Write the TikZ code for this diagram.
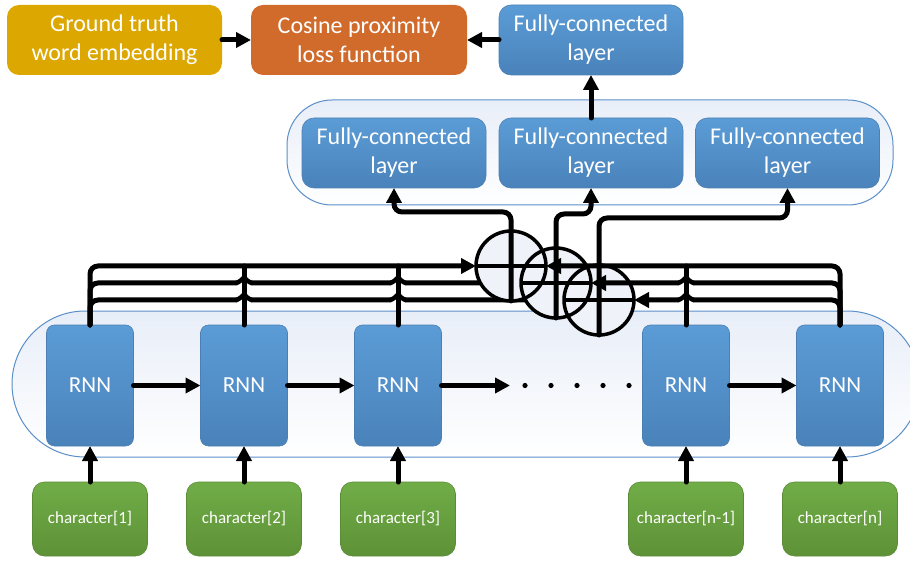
\documentclass[tikz,border=0pt]{standalone}
\usepackage{fontspec}
\setmainfont{Carlito}
\usetikzlibrary{arrows.meta,calc}

\definecolor{goldfill}{RGB}{220,167,0}
\definecolor{orangefill}{RGB}{208,107,44}
\definecolor{bluetop}{RGB}{91,156,214}
\definecolor{bluebot}{RGB}{74,130,186}
\definecolor{blueedge}{RGB}{76,128,180}
\definecolor{greentop}{RGB}{112,173,71}
\definecolor{greenbot}{RGB}{94,145,55}
\definecolor{greenedge}{RGB}{90,140,55}
\definecolor{groupedge}{RGB}{91,143,201}
\definecolor{grouptop}{RGB}{232,238,248}
\definecolor{circfill}{RGB}{240,242,249}

\begin{document}
\begin{tikzpicture}[x=1pt,y=-1pt,
  box/.style={rounded corners=12pt, minimum width=184pt, minimum height=70pt,
    align=center, text=white, inner sep=0pt, outer sep=0pt,
    font=\fontsize{24}{29}\selectfont},
  fcbox/.style={box, top color=bluetop, bottom color=bluebot, draw=blueedge, line width=0.6pt},
  rnnbox/.style={rounded corners=8pt, minimum width=87pt, minimum height=121pt,
    inner sep=0pt, outer sep=0pt, text=white, top color=bluetop, bottom color=bluebot,
    draw=blueedge, line width=0.6pt, font=\fontsize{23}{28}\selectfont},
  charbox/.style={rounded corners=12pt, minimum width=115pt, minimum height=74pt,
    inner sep=0pt, outer sep=0pt, text=white, top color=greentop, bottom color=greenbot,
    draw=greenedge, line width=0.6pt, font=\fontsize{17}{20}\selectfont},
  group/.style={draw=groupedge, line width=1pt, top color=grouptop, bottom color=white},
  opluscirc/.style={circle, minimum size=70pt, inner sep=0pt, outer sep=0pt},
  bus/.style={line width=5pt, line cap=round, rounded corners=8pt},
  tip/.style={-{Triangle[length=15pt,width=15pt]}},
  ring/.style={line width=3.5pt},
  erase/.style={white, line width=6pt},
  hop/.style={line width=4.5pt, line cap=round},
]
\useasboundingbox (0,0) rectangle (910,561);
\clip (0,0) rectangle (910,561);

% group backgrounds
\path[group, rounded corners=45pt] (287,100) rectangle (893,205);
\path[group, rounded corners=73pt] (12,311) rectangle (920,457);

% top row
\node[box, fill=goldfill] (gt) at (114.5,40) [minimum width=215pt] {Ground truth\\word embedding};
\node[box, fill=orangefill] (cos) at (359,40) [minimum width=216pt] {Cosine proximity\\loss function};
\node[fcbox] (fct) at (591,40) {Fully-connected\\layer};

% fully-connected layers
\node[fcbox] (fc1) at (394,153) {Fully-connected\\layer};
\node[fcbox] (fc2) at (591,153) {Fully-connected\\layer};
\node[fcbox] (fc3) at (787.5,153) {Fully-connected\\layer};

% recurrent cells
\node[rnnbox] (r1) at (90,385.5) {RNN};
\node[rnnbox] (r2) at (244,385.5) {RNN};
\node[rnnbox] (r3) at (398,385.5) {RNN};
\node[rnnbox] (r4) at (686,385.5) {RNN};
\node[rnnbox] (r5) at (840,385.5) {RNN};

% character inputs
\node[charbox] (ch1) at (90,519) {character[1]};
\node[charbox] (ch2) at (244,519) {character[2]};
\node[charbox] (ch3) at (398,519) {character[3]};
\node[charbox] (ch4) at (686,519) {character[n-1]};
\node[charbox] (ch5) at (840,519) {character[n]};

% summation nodes
\node[opluscirc] (c1) at (511,266) {};
\node[opluscirc] (c2) at (556,283) {};
\node[opluscirc] (c3) at (599,300) {};

% bus lines from the left-hand cells
\draw[bus,tip] (r1.north) |- (c1.west);
\draw[bus,tip] (r1.north) |- (c2.west);
\draw[bus,tip] (r1.north) |- (c3.west);
\foreach \r in {r2,r3}{
  \foreach \c in {c2,c3}{
    \draw[erase] ($(\r.north |- \c.west)+(-7,0)$) -- ($(\r.north |- \c.west)+(7,0)$);
  }
  \draw[bus] (\r.north) -- (\r.north |- c1.west);
  \foreach \c in {c2,c3}{
    \draw[hop]
      ($(\r.north |- \c.west)+(-7.5,0)$) .. controls +(3,-1) and +(0,1) .. ($(\r.north |- \c.west)+(0,-6)$)
      .. controls +(0,1) and +(-3,-1) .. ($(\r.north |- \c.west)+(7.5,0)$);
  }
}

% circle fills
\foreach \c in {c1,c2,c3}{
  \fill[circfill] (\c.center) circle[radius=35pt];
}
% circle rings, crosses and outputs
\foreach \c in {c1,c2,c3}{
  \draw[ring] (\c.center) circle[radius=35pt];
  \draw[ring] (\c.west) -- (\c.east);
}
\coordinate (y1) at (0,212);
\coordinate (y2) at (0,214);
\coordinate (y3) at (0,218);
\draw[bus,tip] (c1.south) -- (c1 |- y1) -| (fc1.south);
\draw[bus,tip] (c2.south) -- (c2 |- y2) -| (fc2.south);
\draw[bus,tip] (c3.south) -- (c3 |- y3) -| (fc3.south);

% bus lines from the right-hand cells
\draw[bus,tip] (r5.north) |- (c1.east);
\draw[bus,tip] (r5.north) |- (c2.east);
\draw[bus,tip] (r5.north) |- (c3.east);
\foreach \c in {c2,c3}{
  \draw[erase] ($(r4.north |- \c.east)+(-7,0)$) -- ($(r4.north |- \c.east)+(7,0)$);
}
\draw[bus] (r4.north) -- (r4.north |- c1.east);
\foreach \c in {c2,c3}{
  \draw[hop]
    ($(r4.north |- \c.east)+(-7.5,0)$) .. controls +(3,-1) and +(0,1) .. ($(r4.north |- \c.east)+(0,-6)$)
    .. controls +(0,1) and +(-3,-1) .. ($(r4.north |- \c.east)+(7.5,0)$);
}

% recurrence
\coordinate (gap) at (510,385.5);
\draw[bus,tip] (r1.east) -- (r2.west);
\draw[bus,tip] (r2.east) -- (r3.west);
\draw[bus,tip] (r3.east) -- (gap);
\draw[bus,tip] (r4.east) -- (r5.west);
\foreach \x in {525,551,577,603,629}{
  \fill (\x,385.5) circle[radius=2.6pt];
}

% inputs
\foreach \i in {1,...,5}{
  \draw[bus,tip] (ch\i.north) -- (r\i.south);
}

% top row connections
\draw[bus,tip] (gt.east) -- (cos.west);
\draw[bus,tip] (fct.west) -- (cos.east);
\draw[bus,tip] (fc2.north) -- (fct.south);
\end{tikzpicture}
\end{document}
